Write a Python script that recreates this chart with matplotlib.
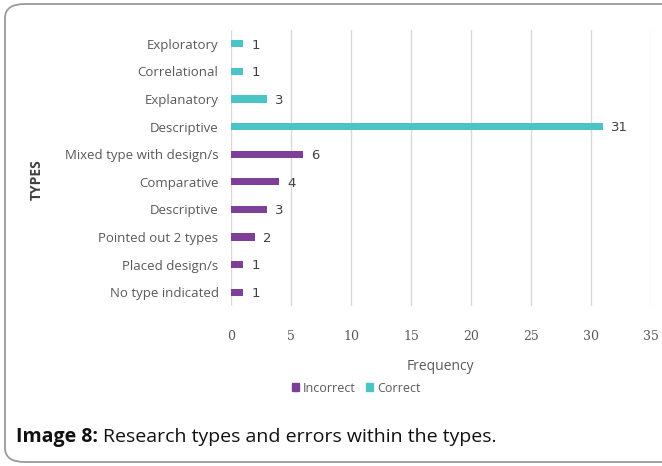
import matplotlib
matplotlib.use("Agg")
import matplotlib.pyplot as plt
from matplotlib.patches import FancyBboxPatch, Patch

categories = ["Exploratory", "Correlational", "Explanatory", "Descriptive",
              "Mixed type with design/s", "Comparative", "Descriptive",
              "Pointed out 2 types", "Placed design/s", "No type indicated"]
values = [1, 1, 3, 31, 6, 4, 3, 2, 1, 1]
series = ["Correct", "Correct", "Correct", "Correct",
          "Incorrect", "Incorrect", "Incorrect", "Incorrect", "Incorrect", "Incorrect"]
xticks = [0, 5, 10, 15, 20, 25, 30, 35]

colors = {"Incorrect": "#7E3F98", "Correct": "#4BC4C6"}

plt.rcParams['font.family'] = ['Open Sans', 'DejaVu Sans']

W, H = 662, 466
fig = plt.figure(figsize=(W / 100, H / 100), dpi=100)

# rounded border
border = FancyBboxPatch((5 / W, 4 / H), 700 / W, 458 / H,
                        boxstyle="round,pad=0,rounding_size=0.03",
                        transform=fig.transFigure, fill=False,
                        edgecolor="#9a9a9a", linewidth=1.3, clip_on=False)
fig.patches.append(border)

ax = fig.add_axes([231 / W, 1 - 306 / H, (651 - 231) / W, (306 - 30) / H])
n = len(categories)
ys = list(range(n))
for y, v, s in zip(ys, values, series):
    ax.barh(y, v, height=0.26, color=colors[s])
    ax.text(v + 0.7, y + 0.05, str(v), va="center", ha="left", fontsize=9.5,
            color="#404040", family="DejaVu Sans")

ax.set_ylim(n - 0.5, -0.5)
ax.set_xlim(0, 35)
ax.set_yticks(ys)
ax.set_yticklabels(categories, fontsize=9.5, color="#595959")
ax.set_xticks(xticks)
ax.set_xticklabels([str(t) for t in xticks], fontsize=9, color="#595959",
                   family="DejaVu Serif")
ax.tick_params(axis="both", length=0)
ax.tick_params(axis="x", pad=17)
ax.tick_params(axis="y", pad=9)
ax.grid(axis="x", color="#d9d9d9", linewidth=1)
ax.set_axisbelow(True)
for sp in ax.spines.values():
    sp.set_visible(False)

fig.text(440 / W, 1 - 366 / H, "Frequency", ha="center", va="center",
         fontsize=10, color="#595959")
fig.text(37 / W, 1 - 180 / H, "TYPES", ha="center", va="center",
         rotation=90, fontsize=10, fontweight="bold", color="#404040")

handles = [Patch(color=colors["Incorrect"], label="Incorrect"),
           Patch(color=colors["Correct"], label="Correct")]
fig.legend(handles=handles, loc="center", bbox_to_anchor=(356 / W, 1 - 388 / H),
           ncol=2, frameon=False, fontsize=9, handlelength=0.6, handleheight=0.6,
           handletextpad=0.3, columnspacing=0.8, labelcolor="#595959")

t1 = fig.text(16 / W, 1 - 437 / H, "Image 8:", ha="left", va="center",
              fontsize=14, fontweight="bold", color="#111111")
fig.canvas.draw()
bb = t1.get_window_extent(fig.canvas.get_renderer())
fig.text((bb.x1 + 5) / W, 1 - 437 / H, "Research types and errors within the types.",
         ha="left", va="center", fontsize=14, color="#111111")

fig.savefig("out.png", dpi=100)
